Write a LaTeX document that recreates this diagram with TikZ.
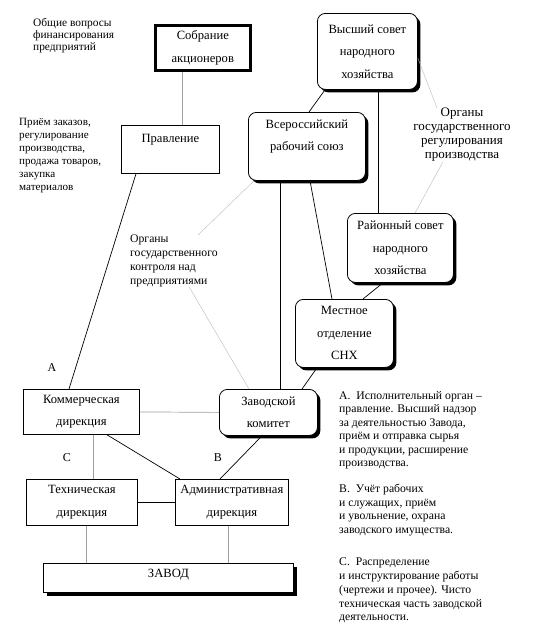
\documentclass[tikz,border=0pt]{standalone}
\usepackage{fontspec}
\setmainfont{Liberation Serif}
\usetikzlibrary{shadows, positioning}
\newcommand{\boxfont}{\fontsize{12.6}{22.5}\selectfont}
\newcommand{\notefont}{\fontsize{11.7}{13.5}\selectfont}
\tikzset{
  box/.style={draw, fill=white, line width=0.8pt, align=center, anchor=north west, inner sep=0pt, font=\boxfont},
  rbox/.style={box, rounded corners=8pt,
    drop shadow={shadow xshift=3pt, shadow yshift=-3pt, fill=black, opacity=1}},
  note/.style={align=left, anchor=north west, inner sep=0pt, font=\notefont},
  letter/.style={font=\fontsize{12}{12}\selectfont},
  link/.style={line width=0.7pt},
  glink/.style={line width=0.7pt, gray!75},
  hint/.style={line width=0.4pt, gray!55}
}

\begin{document}
\begin{tikzpicture}[x=1pt, y=-1pt]
  \useasboundingbox (0,0) rectangle (550,627);
  % boxes
  \node[box, line width=2.6pt, minimum width=95pt, minimum height=45pt] (sobr) at (154,24) {Собрание\\акционеров};
  \node[box, minimum width=98pt, minimum height=48pt] (prav) at (121,125) {Правление\\\mbox{}};
  \node[rbox, minimum width=100pt, minimum height=76pt] (vsnh) at (317,13) {Высший совет\\народного\\хозяйства};
  \node[rbox, minimum width=117pt, minimum height=68pt] (vrs) at (248,112) {Всероссийский\\рабочий союз\\\mbox{}};
  \node[rbox, minimum width=106pt, minimum height=69pt] (rsnh) at (347,213) {Районный совет\\народного\\хозяйства};
  \node[rbox, minimum width=98pt, minimum height=68pt] (mest) at (295,299) {Местное\\отделение\\СНХ};
  \node[rbox, minimum width=98pt, minimum height=46pt] (zkom) at (219,389) {Заводской\\комитет};
  \node[box, minimum width=116pt, minimum height=45pt] (komm) at (23,389) {Коммерческая\\дирекция};
  \node[box, minimum width=111pt, minimum height=46pt] (tech) at (26,479) {Техническая\\дирекция};
  \node[box, minimum width=113pt, minimum height=46pt] (adm) at (175,479) {Административная\\дирекция};
  \node[box, minimum width=250pt, minimum height=29pt, text depth=9pt,
    drop shadow={shadow xshift=4pt, shadow yshift=-4pt, fill=black, opacity=1}] (zavod) at (43,563) {ЗАВОД};
  % side texts
  \node[note, font=\fontsize{11.4}{12}\selectfont] (obsh) at (33,18) {Общие вопросы\\финансирования\\предприятий};
  \node[note, font=\fontsize{11.1}{13}\selectfont] (priem) at (19,118) {Приём заказов,\\регулирование\\производства,\\продажа товаров,\\закупка\\материалов};
  \node[note, font=\fontsize{11.7}{13.7}\selectfont] (orgctl) at (130,235) {Органы\\государственного\\контроля над\\предприятиями};
  \node[note, align=center, anchor=north, font=\fontsize{13}{14}\selectfont] (orgreg) at (462,108) {Органы\\государственного\\регулирования\\производства};
  \node[note] (notea) at (339,391) {А.\ \ Исполнительный орган –\\правление. Высший надзор\\за деятельностью Завода,\\приём и отправка сырья\\и продукции, расширение\\производства.};
  \node[note] (noteb) at (339,484) {В.\ \ Учёт рабочих\\и служащих, приём\\и увольнение, охрана\\заводского имущества.};
  \node[note, font=\fontsize{11.7}{13.7}\selectfont] (notec) at (339,558) {С.\ \ Распределение\\и инструктирование работы\\(чертежи и прочее). Чисто\\техническая часть заводской\\деятельности.};
  \node[letter] (la) at (52,368) {А};
  \node[letter] (lc) at (67,458) {С};
  \node[letter] (lb) at (218,458) {В};
  % connectors
  \draw[glink] (sobr.south -| 182,0) -- (prav.north -| 182,0);
  \draw[link] (vsnh.south -| 325,0) -- (vrs.north -| 309,0);
  \draw[link] (vsnh.south -| 378,0) -- (rsnh.north -| 378,0);
  \draw[link] (vrs.south -| 280,0) -- (zkom.north -| 280,0);
  \draw[link] (vrs.south -| 310,0) -- (mest.north -| 332,0);
  \draw[link] (rsnh.south -| 383,0) -- (mest.north -| 363,0);
  \draw[link] (mest.south -| 317,0) -- (zkom.north -| 302,0);
  \draw[link] (prav.south -| 136,0) -- (komm.north -| 69,0);
  \draw[glink] (komm.east) -- (zkom.west);
  \draw[glink] (komm.south -| 93,0) -- (tech.north -| 93,0);
  \draw[link] (komm.south -| 107,0) -- (adm.north -| 180,0);
  \draw[link] (zkom.south -| 262,0) -- (adm.north -| 220,0);
  \draw[link] (tech.east) -- (adm.west);
  \draw[glink] (tech.south -| 86,0) -- (zavod.north -| 86,0);
  \draw[glink] (adm.south -| 228,0) -- (zavod.north -| 228,0);
  % label hints
  \draw[hint] (vsnh.east |- 0,58) -- (orgreg.north -| 437,0);
  \draw[hint] (orgreg.south -| 443,0) -- (rsnh.north -| 415,0);
  \draw[hint] (vrs.south -| 254,0) -- (orgctl.north -| 198,0);
  \draw[hint] (orgctl.south -| 189,0) -- (zkom.north -| 249,0);
\end{tikzpicture}
\end{document}
